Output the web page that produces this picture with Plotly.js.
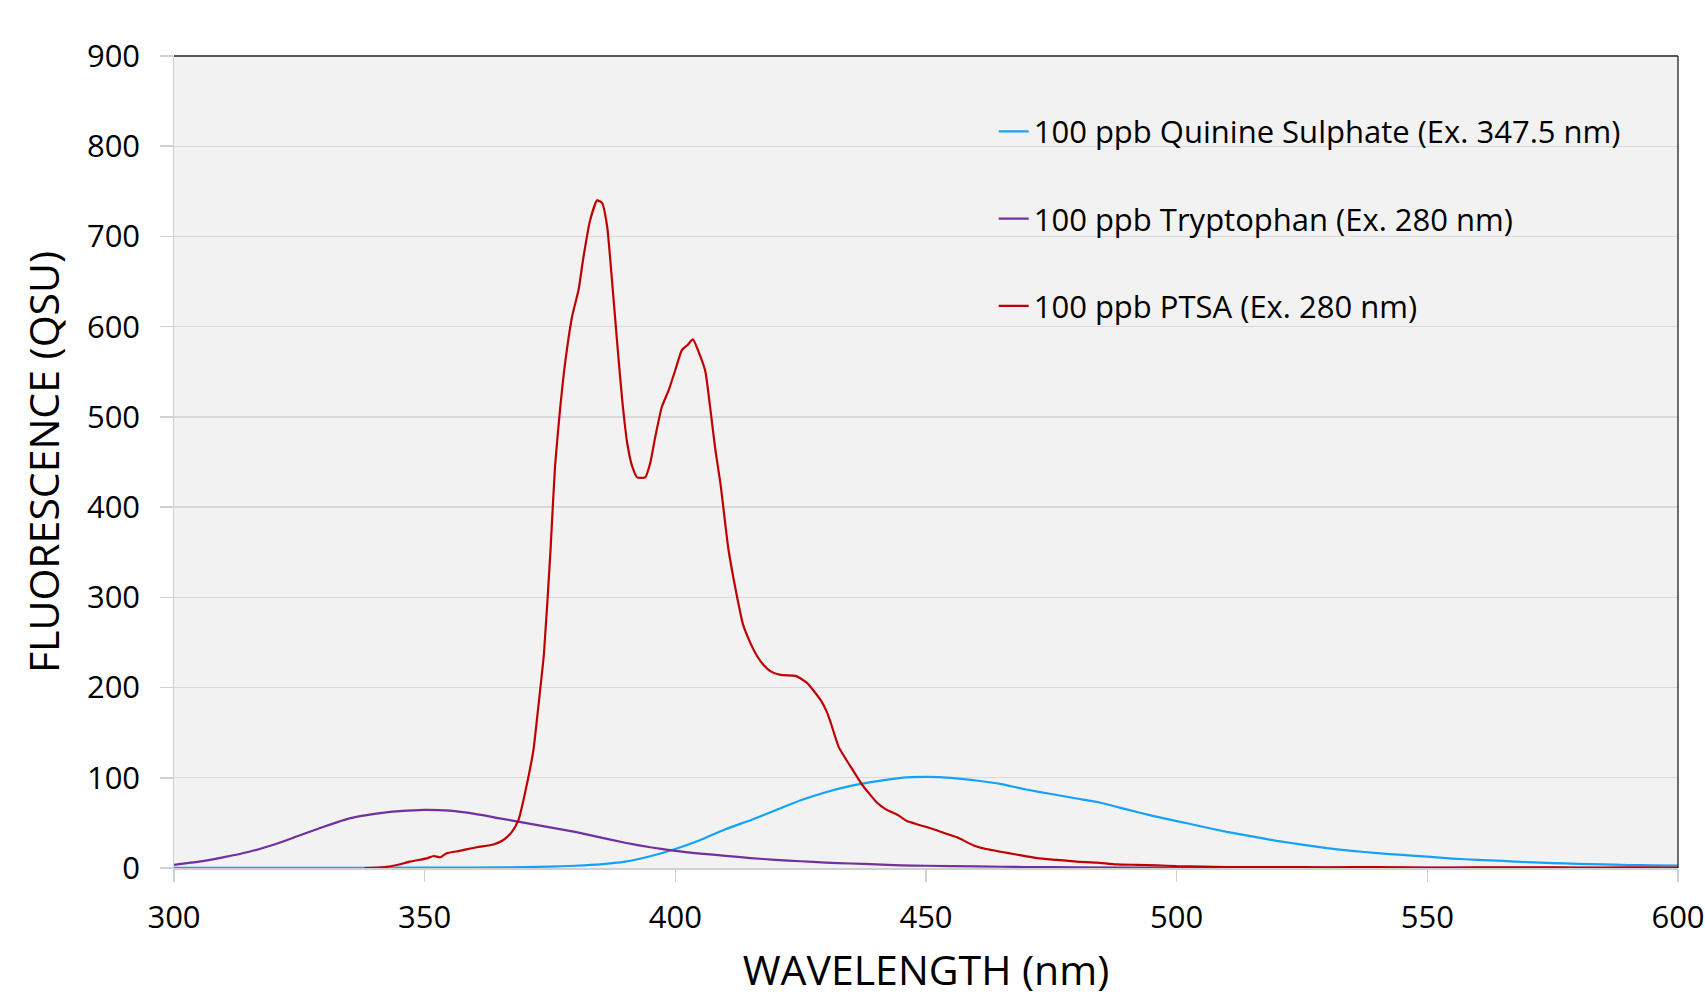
<!DOCTYPE html>
<html>
<head>
<meta charset="utf-8">
<script src="https://cdn.plot.ly/plotly-3.0.1.min.js"></script>
<style>
  html, body { margin: 0; padding: 0; background: #ffffff; }
  #chart { width: 1705px; height: 997px; }
</style>
</head>
<body>
<div id="chart"></div>
<script>
// Quinine Sulphate (Ex. 347.5 nm)
const quinineWl = [300,320,340,360,370,375,380,385,390,395,400,405,410,415,420,425,430,435,440,445,450,455,460,465,470,475,480,485,490,495,500,505,510,515,520,525,530,535,540,545,550,555,560,565,570,575,580,585,590,595,600];
const quinineVal = [0.3,0.3,0.3,0.5,1,1.5,2.5,4,7,13,21,31,43,53,64,75,84,91,96,100,101,100,97,93,87,82,77,72,65,58,52,46,40,35,30,26,22,19,16.5,14.5,12.5,10.5,9,7.8,6.5,5.5,4.6,4,3.3,3,2.7];

// Tryptophan (Ex. 280 nm)
const tryptoWl = [300,305,310,315,320,325,330,335,340,345,350,355,360,365,370,375,380,385,390,395,400,405,410,415,420,425,430,435,440,445,450,460,470,480,500,550,600];
const tryptoVal = [3.5,7,12,18,26,36,46,55,60,63,64.5,63.5,60,55,50,45,40,34,28,23,19,16,13.5,11,9,7.5,6,5,4,3,2.5,1.7,1.1,0.7,0.3,0.1,0];

// PTSA (Ex. 280 nm)
const ptsaWl = [338,342,344.5,347,350.4,351.8,353.1,354.4,357,360.4,363.7,365.7,367.4,368.7,369.7,370.7,371.7,372.5,373.8,375.1,376,377,378,379.4,380.7,381.7,383,384.4,385.4,386.4,387.4,388.4,389.4,390.4,391.4,392.4,394,395,396,397.3,398.7,400,401.3,402.5,403.5,405,406,407,408,409,410.6,412.3,413.5,415,416.3,417.6,419,421,424,425,426.3,429,430.3,431,432.6,435,437.3,440.3,442,444.3,446.2,448.5,450.9,453.5,456.2,459.5,462,464.9,468,472.2,476,480,484,488,492,496,500,505,510,520,530,540,550,560,570,580,590,600];
const ptsaVal = [0,1,3.3,7,10.7,13.3,11.9,16.3,19,23,26,31,40,53,75,101,131,170,238,352,445,508,559,611,641,678,718,740,737,711,649,582,519,471,445,433,433,449,478,511,530,552,574,580,586,567,550,508,463,426,353,301,270,249,235,225,218,214,213,210,205,186,172,161,134,112,92,72,65,59,52,48,44,39,34,25,21,18,15,11,9,7,6,4,3.5,3,2,1.5,1,1,0.8,1,0.5,0.6,0.8,0.5,0.6,0.5];

const seriesNames = [
  "100 ppb Quinine Sulphate (Ex. 347.5 nm)",
  "100 ppb Tryptophan (Ex. 280 nm)",
  "100 ppb PTSA (Ex. 280 nm)"
];
const xTickVals = [300,350,400,450,500,550,600];
const yTickVals = [0,100,200,300,400,500,600,700,800,900];

const FONT = "'Open Sans', 'Noto Sans', sans-serif";

const traces = [
  {x: quinineWl, y: quinineVal, name: seriesNames[0], legendgroup: "a", line: {color: "#14a2f7", width: 2.2, shape: "spline", smoothing: 0.5}},
  {x: tryptoWl, y: tryptoVal, name: seriesNames[1], legendgroup: "b", line: {color: "#7030a0", width: 2.2, shape: "spline", smoothing: 0.5}},
  {x: ptsaWl, y: ptsaVal, name: seriesNames[2], legendgroup: "c", line: {color: "#c00000", width: 2.2, shape: "spline", smoothing: 0.5}}
].map(t => Object.assign({type: "scatter", mode: "lines", hoverinfo: "skip"}, t));

const layout = {
  width: 1705, height: 997,
  margin: {l: 174, r: 27, t: 56, b: 129},
  paper_bgcolor: "#ffffff",
  plot_bgcolor: "#f2f2f2",
  font: {family: FONT, color: "#000000", size: 31},
  showlegend: true,
  legend: {
    x: 0.545, xanchor: "left", y: 0.94, yanchor: "top",
    bgcolor: "rgba(0,0,0,0)",
    font: {family: FONT, size: 31, color: "#000"},
    traceorder: "grouped", tracegroupgap: 44
  },
  xaxis: {
    range: [300, 600], tickvals: xTickVals, ticktext: xTickVals.map(String),
    showgrid: false, zeroline: false, automargin: false,
    showline: true, linecolor: "#d0d0d0", linewidth: 1.5,
    ticks: "outside", ticklen: 12, tickwidth: 1.5, tickcolor: "#d0d0d0",
    ticklabelstandoff: 9,
    tickfont: {family: FONT, size: 31, color: "#000"},
    title: {text: "WAVELENGTH (nm)", font: {family: FONT, size: 41, color: "#000"}}
  },
  yaxis: {
    range: [0, 900], tickvals: yTickVals, ticktext: yTickVals.map(v => String(v) + "\u00a0\u2009"),
    showgrid: true, gridcolor: "#d9d9d9", gridwidth: 1.3,
    zeroline: false, automargin: "width",
    showline: true, linecolor: "#d0d0d0", linewidth: 1.5,
    ticks: "outside", ticklen: 13, tickwidth: 1.5, tickcolor: "#d0d0d0",
    tickfont: {family: FONT, size: 31, color: "#000"},
    title: {text: "FLUORESCENCE (QSU)", font: {family: FONT, size: 41, color: "#000"}, standoff: 14}
  },
  shapes: [
    {type: "line", xref: "paper", yref: "paper", x0: 0, x1: 1, y0: 1, y1: 1, line: {color: "#222", width: 1.3}},
    {type: "line", xref: "paper", yref: "paper", x0: 1, x1: 1, y0: 0, y1: 1, line: {color: "#222", width: 1.3}}
  ]
};

Plotly.newPlot("chart", traces, layout, {displayModeBar: false, staticPlot: true});
</script>
</body>
</html>
